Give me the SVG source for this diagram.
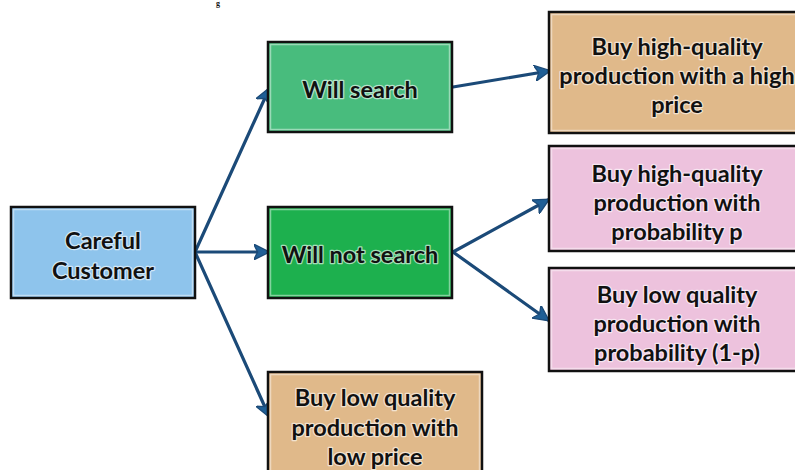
<svg xmlns="http://www.w3.org/2000/svg" width="795" height="470" viewBox="0 0 795 470">
<defs>
<style>
.box{stroke:#111;stroke-width:2.5}
.inner{fill:none;stroke:#fff;stroke-opacity:0.45;stroke-width:1.5}
.t{font-family:Lato,"Open Sans","Liberation Sans",sans-serif;font-weight:bold;font-size:23.5px;fill:#111;text-anchor:middle;paint-order:stroke;stroke:#fff;stroke-width:2.5;stroke-opacity:0.6;stroke-linejoin:round}
.c{fill:none;stroke:#1B4A78;stroke-width:3.2;stroke-linecap:round}
</style>
<marker id="ah" viewBox="0 0 10 10" refX="9" refY="5" markerWidth="5" markerHeight="5" orient="auto" markerUnits="strokeWidth">
<path d="M0,0 L10,5 L0,10 L2.5,5 z" fill="#1F5F96" stroke="#1B4A78" stroke-width="0.8"/>
</marker>
</defs>
<rect width="795" height="470" fill="#fff"/>
<text x="216" y="6" font-family="'Liberation Serif',serif" font-weight="bold" font-size="8" fill="#111">g</text>
<g id="connectors">
<line class="c" x1="195" y1="252" x2="269" y2="89" marker-end="url(#ah)"/>
<line class="c" x1="195" y1="252" x2="268" y2="252" marker-end="url(#ah)"/>
<line class="c" x1="195" y1="252" x2="269" y2="416" marker-end="url(#ah)"/>
<line class="c" x1="453" y1="87" x2="549" y2="71" marker-end="url(#ah)"/>
<line class="c" x1="453" y1="252" x2="548" y2="200" marker-end="url(#ah)"/>
<line class="c" x1="453" y1="252" x2="548" y2="320" marker-end="url(#ah)"/>
</g>
<g id="careful">
<rect class="box" x="11" y="207" width="184" height="91" fill="#8EC4EC"/>
<rect class="inner" x="13.5" y="209.5" width="179" height="86"/>
<text class="t" x="103" y="249">Careful</text>
<text class="t" x="103" y="279">Customer</text>
</g>
<g id="will-search">
<rect class="box" x="268" y="42" width="184" height="90" fill="#48BC7D"/>
<rect class="inner" x="270.5" y="44.5" width="179" height="85"/>
<text class="t" x="360" y="98">Will search</text>
</g>
<g id="will-not-search">
<rect class="box" x="268" y="207" width="184" height="91" fill="#1DB04E"/>
<rect class="inner" x="270.5" y="209.5" width="179" height="86"/>
<text class="t" x="360" y="263">Will not search</text>
</g>
<g id="high-price">
<rect class="box" x="549" y="12" width="260" height="121" fill="#E0B98A"/>
<rect class="inner" x="551.5" y="14.5" width="255" height="116"/>
<text class="t" x="677" y="55">Buy high-quality</text>
<text class="t" x="677" y="84">production with a high</text>
<text class="t" x="677" y="113">price</text>
</g>
<g id="prob-p">
<rect class="box" x="549" y="146" width="260" height="105" fill="#EDC2DD"/>
<rect class="inner" x="551.5" y="148.5" width="255" height="100"/>
<text class="t" x="677" y="182">Buy high-quality</text>
<text class="t" x="677" y="211">production with</text>
<text class="t" x="677" y="240">probability p</text>
</g>
<g id="prob-1-p">
<rect class="box" x="549" y="268" width="260" height="103" fill="#EDC2DD"/>
<rect class="inner" x="551.5" y="270.5" width="255" height="98"/>
<text class="t" x="677" y="303">Buy low quality</text>
<text class="t" x="677" y="332">production with</text>
<text class="t" x="677" y="361">probability (1-p)</text>
</g>
<g id="low-price">
<rect class="box" x="268" y="372" width="214" height="110" fill="#E0B98A"/>
<rect class="inner" x="270.5" y="374.5" width="209" height="105"/>
<text class="t" x="375" y="406">Buy low quality</text>
<text class="t" x="375" y="436">production with</text>
<text class="t" x="375" y="465">low price</text>
</g>
</svg>
